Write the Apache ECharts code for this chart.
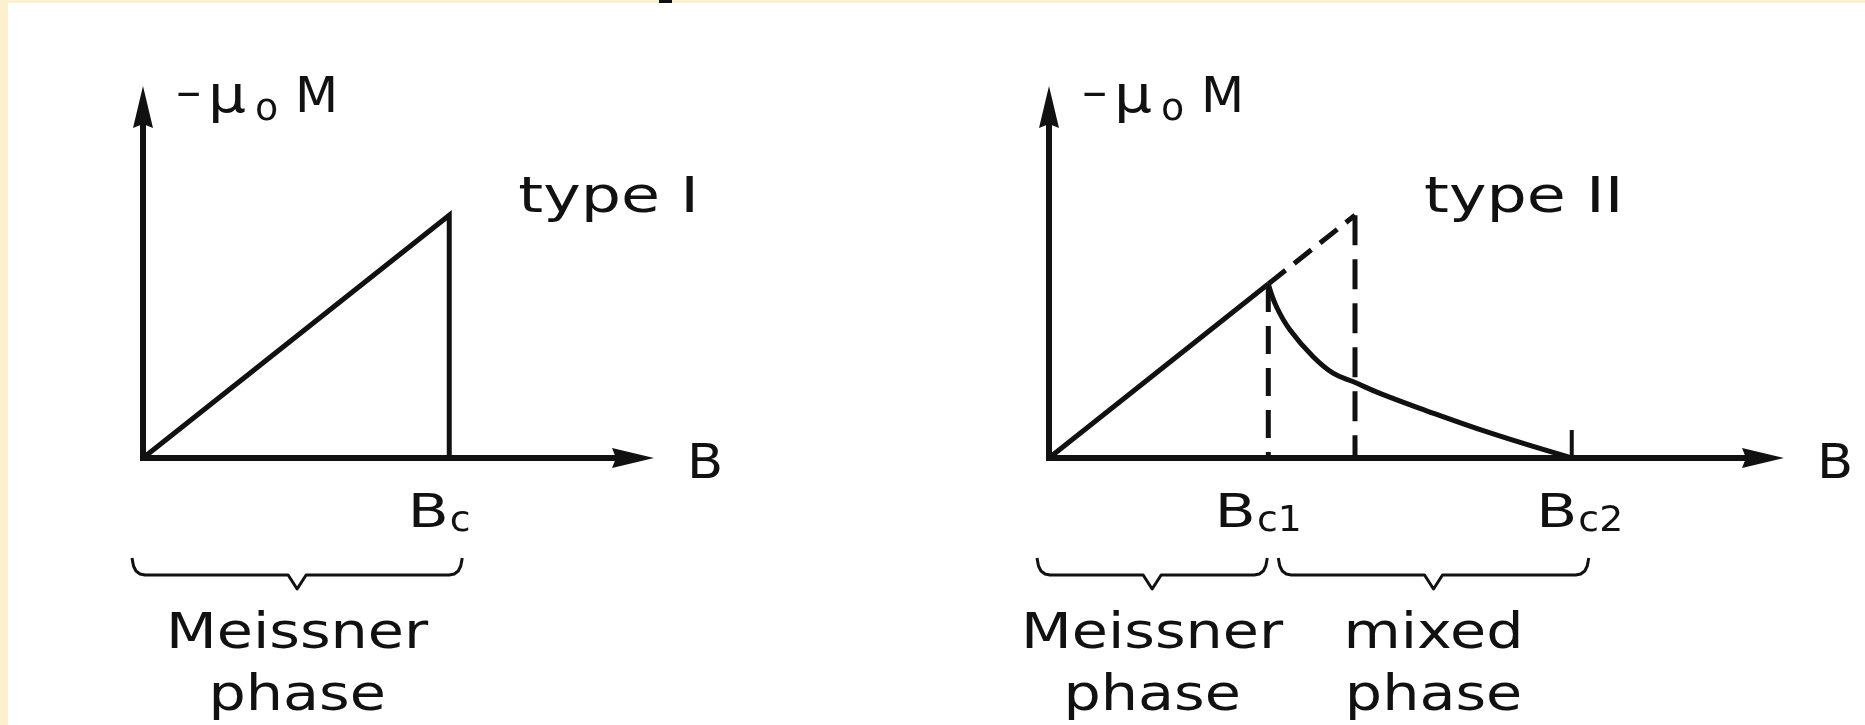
<!DOCTYPE html>
<html>
<head>
<meta charset="utf-8">
<script src="https://cdn.jsdelivr.net/npm/echarts@6.0.0/dist/echarts.min.js"></script>
<style>
  html, body { margin: 0; padding: 0; background: #fff; }
  #chart { width: 1865px; height: 725px; }
</style>
</head>
<body>
<div id="chart"></div>
<script>
// Magnetisation -μ0·M versus applied field B for type I and type II superconductors.
// Field and magnetisation are in arbitrary (schematic) units.

// ---- type I ----
const typeICurve = [[0, 0], [6, 6.5], [6, 0]];
const typeITicks = [{ value: 6, main: 'B', sub: 'c' }];
const typeIPhases = [{ from: 0, to: 6, lines: ['Meissner', 'phase'] }];

// ---- type II ----
const typeIIMeissner = [[0, 0], [4.3, 4.66]];
const typeIIMixed = [[4.3, 4.66], [4.46, 4.05], [4.73, 3.42], [5.18, 2.71], [5.57, 2.27],
                     [5.97, 2.04], [6.49, 1.73], [7.27, 1.33], [8.65, 0.67], [10.25, 0]];
const typeIIIdealRise = [[4.3, 4.66], [6, 6.5]];
const typeIIIdealDrop = [[6, 6.5], [6, 0]];
const typeIIBc1Guide = [[4.3, 4.66], [4.3, 0]];
const typeIIBc2Tick = [[10.25, 0], [10.25, 0.75]];
const typeIITicks = [{ value: 4.3, main: 'B', sub: 'c1' }, { value: 10.25, main: 'B', sub: 'c2' }];
const typeIIPhases = [{ from: 0, to: 4.3, lines: ['Meissner', 'phase'] },
                      { from: 4.3, to: 10.25, lines: ['mixed', 'phase'] }];

const panelTitles = ['type I', 'type II'];
const titleAnchors = [[6, 6.5], [6, 6.5]];
const xAxisName = 'B';
const yAxisNameParts = ['–', 'μ', 'o', 'M'];

// ---- layout & style ----
const INK = '#111';
const PAPER = '#fdf0cf';
const FONT = 'DejaVu Sans';
const ARROW = 'path://M10,0L20,42L10,38L0,42Z';
const ARROW_LEN = 42;
const grids = [
  { left: 143, top: 107, width: 490, height: 351 },
  { left: 1049, top: 107, width: 714, height: 351 }
];
const xMax = [9.6, 14];
const yMax = 9.4;
const tickDx = [[-10], [-10, 8]];
const bracePads = [[[-11, 13]], [[-12, -1], [10, 17]]];

const chart = echarts.init(document.getElementById('chart'), null, { renderer: 'canvas' });

function axisLine() {
  return {
    show: true, onZero: false,
    symbol: ['none', ARROW], symbolSize: [20, ARROW_LEN],
    lineStyle: { color: INK, width: 6, cap: 'square' }
  };
}

function lineSeries(i, data, width, dash, smooth) {
  return {
    type: 'line', xAxisIndex: i, yAxisIndex: i, data: data,
    symbol: 'none', showSymbol: false, silent: true, z: 3,
    smooth: smooth || false,
    lineStyle: { color: INK, width: width, type: dash || 'solid', cap: 'butt', join: 'miter' }
  };
}

const option = {
  animation: false,
  backgroundColor: '#fff',
  grid: grids.map(g => Object.assign({ containLabel: false, outerBoundsMode: 'none' }, g)),
  xAxis: [0, 1].map(i => ({
    type: 'value', gridIndex: i, min: 0, max: xMax[i],
    axisLine: axisLine(), axisTick: { show: false }, axisLabel: { show: false }, splitLine: { show: false }
  })),
  yAxis: [0, 1].map(i => ({
    type: 'value', gridIndex: i, min: 0, max: yMax,
    axisLine: axisLine(), axisTick: { show: false }, axisLabel: { show: false }, splitLine: { show: false }
  })),
  series: [
    lineSeries(0, typeICurve, 5),
    lineSeries(1, typeIIMeissner, 5),
    lineSeries(1, typeIIMixed, 5, 'solid', 0.4),
    lineSeries(1, typeIIIdealRise, 5, [22, 11]),
    lineSeries(1, typeIIIdealDrop, 5, [30, 14]),
    lineSeries(1, typeIIBc1Guide, 5, [28, 14]),
    lineSeries(1, typeIIBc2Tick, 4)
  ]
};
chart.setOption(option);

// ---- annotations: axis names, titles, critical-field labels, phase braces ----
const meas = document.createElement('canvas').getContext('2d');
function textWidth(text, size) {
  meas.font = size + 'px "' + FONT + '"';
  return meas.measureText(text).width;
}
function midShift(size) {
  meas.font = size + 'px "' + FONT + '"';
  meas.textBaseline = 'middle';
  return meas.measureText('H').actualBoundingBoxDescent;
}
function textEl(text, left, baseline, size, sx) {
  return {
    type: 'text', x: left, y: baseline - midShift(size), scaleX: sx, z: 100, silent: true,
    style: { text: text, x: 0, y: 0, fontFamily: FONT, fontSize: size, fill: INK, align: 'left', verticalAlign: 'middle' }
  };
}
function centered(text, cx, baseline, size, sx) {
  return textEl(text, cx - textWidth(text, size) * sx / 2, baseline, size, sx);
}
const toPx = (i, x, y) => chart.convertToPixel({ gridIndex: i }, [x, y]);

const els = [
  { type: 'rect', z: -1, shape: { x: 0, y: 0, width: 8, height: 725 }, style: { fill: PAPER } },
  { type: 'rect', z: -1, shape: { x: 0, y: 0, width: 1865, height: 3 }, style: { fill: PAPER } },
  { type: 'rect', z: 0, shape: { x: 659, y: 0, width: 13, height: 3 }, style: { fill: INK } }
];

const ticksAll = [typeITicks, typeIITicks];
const phasesAll = [typeIPhases, typeIIPhases];

[0, 1].forEach(i => {
  const o = toPx(i, 0, 0);
  const ox = o[0], oy = o[1];
  const xTip = toPx(i, xMax[i], 0)[0] + ARROW_LEN / 2;
  const yTip = toPx(i, 0, yMax)[1] - ARROW_LEN / 2;

  // vertical axis name: –μ₀M
  els.push(textEl(yAxisNameParts[0], ox + 33, yTip + 21, 46, 1.1));
  els.push(textEl(yAxisNameParts[1], ox + 65, yTip + 26, 52, 1.15));
  els.push(textEl(yAxisNameParts[2], ox + 112, yTip + 34, 38, 1));
  els.push(textEl(yAxisNameParts[3], ox + 152, yTip + 26, 50, 1));

  // horizontal axis name
  els.push(centered(xAxisName, xTip + 51, oy + 20, 48, 1.1));

  // panel title beside the critical point
  const a = toPx(i, titleAnchors[i][0], titleAnchors[i][1]);
  els.push(textEl(panelTitles[i], a[0] + 69, a[1] - 3, 50, 1.27));

  // critical-field labels under the axis
  ticksAll[i].forEach((t, k) => {
    const p = toPx(i, t.value, 0);
    const sxB = 1.3, sxS = 1.05;
    const wB = textWidth(t.main, 46) * sxB;
    const wS = textWidth(t.sub, 36) * sxS;
    const left = p[0] + tickDx[i][k] - (wB + 1 + wS) / 2;
    els.push(textEl(t.main, left, oy + 69, 46, sxB));
    els.push(textEl(t.sub, left + wB + 1, oy + 73, 36, sxS));
  });

  // braces and phase names
  phasesAll[i].forEach((ph, k) => {
    const x0 = toPx(i, ph.from, 0)[0] + bracePads[i][k][0];
    const x1 = toPx(i, ph.to, 0)[0] + bracePads[i][k][1];
    const top = oy + 100, mid = oy + 117, tip = oy + 131, c = (x0 + x1) / 2;
    els.push({
      type: 'polyline', z: 50, silent: true,
      shape: { points: [
        [x0, top], [x0 + 1.5, top + 8], [x0 + 4, top + 13], [x0 + 8, mid - 1], [x0 + 13, mid],
        [c - 9, mid], [c, tip], [c + 9, mid],
        [x1 - 13, mid], [x1 - 8, mid - 1], [x1 - 4, top + 13], [x1 - 1.5, top + 8], [x1, top]
      ] },
      style: { stroke: INK, lineWidth: 3, fill: null, lineJoin: 'round' }
    });
    els.push(centered(ph.lines[0], c, oy + 190, 49, 1.2));
    els.push(centered(ph.lines[1], c, oy + 252, 49, 1.2));
  });
});

chart.setOption({ graphic: { elements: els } });
</script>
</body>
</html>
